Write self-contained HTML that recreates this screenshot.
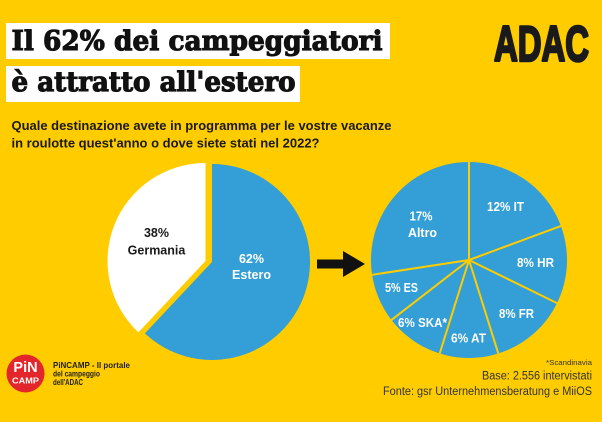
<!DOCTYPE html>
<html>
<head>
<meta charset="utf-8">
<style>
html,body{margin:0;padding:0;background:#FFCC00;}
svg{display:block;}
</style>
</head>
<body>
<svg width="602" height="422" viewBox="0 0 602 422" xmlns="http://www.w3.org/2000/svg">
  <rect x="0" y="0" width="602" height="422" fill="#FFCC00"/>

  <!-- Title boxes -->
  <rect x="6" y="23" width="384" height="36" fill="#ffffff"/>
  <rect x="6" y="66" width="294" height="36" fill="#ffffff"/>
  <text x="11.5" y="50" font-family="DejaVu Serif, Liberation Serif, serif" font-weight="bold" font-size="27" fill="#111" stroke="#111" stroke-width="1.1" textLength="371" lengthAdjust="spacingAndGlyphs">Il 62% dei campeggiatori</text>
  <text x="11.5" y="91" font-family="DejaVu Serif, Liberation Serif, serif" font-weight="bold" font-size="27" fill="#111" stroke="#111" stroke-width="1.1" textLength="284" lengthAdjust="spacingAndGlyphs">è attratto all'estero</text>

  <!-- ADAC logo -->
  <text x="494" y="61" font-family="Liberation Sans, Arial, sans-serif" font-weight="bold" font-size="50" fill="#1a1a1a" stroke="#1a1a1a" stroke-width="2.6" stroke-linejoin="round" textLength="95" lengthAdjust="spacingAndGlyphs">ADAC</text>

  <!-- Question -->
  <text x="11.5" y="130" font-family="Liberation Sans, Arial, sans-serif" font-weight="bold" font-size="13" fill="#1a1a1a" textLength="380" lengthAdjust="spacingAndGlyphs">Quale destinazione avete in programma per le vostre vacanze</text>
  <text x="11.5" y="147.5" font-family="Liberation Sans, Arial, sans-serif" font-weight="bold" font-size="13" fill="#1a1a1a" textLength="308" lengthAdjust="spacingAndGlyphs">in roulotte quest'anno o dove siete stati nel 2022?</text>

  <!-- Left pie -->
  <path d="M212,262 L212,164 A98,98 0 1,1 144.9,333.4 Z" fill="#339FD6"/>
  <path d="M205.5,261 L138.4,332.4 A98,98 0 0,1 205.5,163 Z" fill="#ffffff"/>
  <g font-family="Liberation Sans, Arial, sans-serif" font-weight="bold" font-size="12.5" text-anchor="middle">
    <text x="156.5" y="237" fill="#1a1a1a">38%</text>
    <text x="156.5" y="254.5" fill="#1a1a1a">Germania</text>
    <text x="251.5" y="263" fill="#ffffff">62%</text>
    <text x="251.5" y="279" fill="#ffffff">Estero</text>
  </g>

  <!-- Arrow -->
  <rect x="317" y="259.5" width="27" height="9" fill="#111"/>
  <polygon points="343,251 365,264 343,277" fill="#111"/>

  <!-- Right pie -->
  <circle cx="469" cy="260" r="98" fill="#339FD6"/>
  <g stroke="#FFCC00" stroke-width="2" stroke-linecap="butt">
    <line x1="469" y1="260" x2="469" y2="160"/>
    <line x1="469" y1="260" x2="562.8" y2="225.3"/>
    <line x1="469" y1="260" x2="558.8" y2="304.0"/>
    <line x1="469" y1="260" x2="498.9" y2="355.4"/>
    <line x1="469" y1="260" x2="439.1" y2="355.4"/>
    <line x1="469" y1="260" x2="389.9" y2="321.2"/>
    <line x1="469" y1="260" x2="370.1" y2="275.1"/>
  </g>
  <g font-family="Liberation Sans, Arial, sans-serif" font-weight="bold" font-size="12.5" fill="#ffffff">
    <text x="487" y="211" textLength="37" lengthAdjust="spacingAndGlyphs">12% IT</text>
    <text x="517" y="267" textLength="37" lengthAdjust="spacingAndGlyphs">8% HR</text>
    <text x="499" y="318" textLength="35" lengthAdjust="spacingAndGlyphs">8% FR</text>
    <text x="451" y="342.5" textLength="35" lengthAdjust="spacingAndGlyphs">6% AT</text>
    <text x="398" y="327" textLength="49" lengthAdjust="spacingAndGlyphs">6% SKA*</text>
    <text x="385" y="292" textLength="33" lengthAdjust="spacingAndGlyphs">5% ES</text>
    <text x="409.5" y="220.5" textLength="23" lengthAdjust="spacingAndGlyphs">17%</text>
    <text x="408" y="237" textLength="29" lengthAdjust="spacingAndGlyphs">Altro</text>
  </g>

  <!-- PinCamp logo -->
  <circle cx="25.5" cy="373.5" r="19" fill="#E3262B"/>
  <text x="25.5" y="372" text-anchor="middle" font-family="Liberation Sans, Arial, sans-serif" font-weight="bold" font-size="14.5" fill="#ffffff">PiN</text>
  <text x="25.5" y="383.5" text-anchor="middle" font-family="Liberation Sans, Arial, sans-serif" font-weight="bold" font-size="8" fill="#ffffff" textLength="27" lengthAdjust="spacingAndGlyphs">CAMP</text>
  <g font-family="Liberation Sans, Arial, sans-serif" font-weight="bold" font-size="8.5" fill="#222">
    <text x="53" y="368" textLength="77" lengthAdjust="spacingAndGlyphs">PiNCAMP - Il portale</text>
    <text x="53" y="376.5" textLength="47" lengthAdjust="spacingAndGlyphs">del campeggio</text>
    <text x="53" y="385" textLength="30" lengthAdjust="spacingAndGlyphs">dell'ADAC</text>
  </g>

  <!-- Footnotes -->
  <g font-family="Liberation Sans, Arial, sans-serif" fill="#333" text-anchor="end">
    <text x="592" y="365" font-size="7.5" textLength="46" lengthAdjust="spacingAndGlyphs">*Scandinavia</text>
    <text x="592" y="379.5" font-size="11.5" textLength="110" lengthAdjust="spacingAndGlyphs">Base: 2.556 intervistati</text>
    <text x="592" y="395" font-size="11.5" textLength="209" lengthAdjust="spacingAndGlyphs">Fonte: gsr Unternehmensberatung e MiiOS</text>
  </g>
</svg>
</body>
</html>
